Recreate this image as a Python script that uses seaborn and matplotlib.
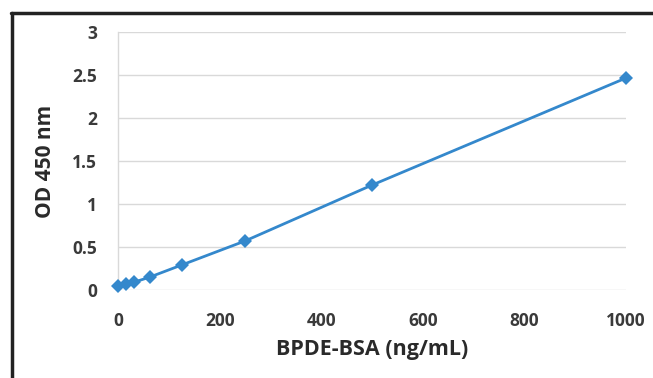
import matplotlib
matplotlib.use("Agg")
import matplotlib.pyplot as plt
import seaborn as sns
import pandas as pd
from matplotlib.lines import Line2D

conc = [0, 15.6, 31.25, 62.5, 125, 250, 500, 1000]
od = [0.05, 0.07, 0.09, 0.15, 0.29, 0.57, 1.22, 2.465]
x_ticks = [0, 200, 400, 600, 800, 1000]
y_ticks = [0, 0.5, 1, 1.5, 2, 2.5, 3]
y_tick_labels = ["0", "0.5", "1", "1.5", "2", "2.5", "3"]

sns.set_style("white")
plt.rcParams['font.family'] = ['Open Sans', 'DejaVu Sans']

df = pd.DataFrame({"conc": conc, "od": od})

fig = plt.figure(figsize=(6.53, 3.78), dpi=100)
ax = fig.add_axes([118/653, 1-290/378, (626-118)/653, (290-32)/378])

color = "#3488cc"
sns.lineplot(data=df, x="conc", y="od", ax=ax, color=color, linewidth=2,
             marker="D", markersize=7.5, markeredgewidth=0)
for ln in ax.lines:
    ln.set_clip_on(False)
    ln.set_zorder(5)

ax.set_xlim(0, 1000)
ax.set_ylim(0, 3)
ax.set_xticks(x_ticks)
ax.set_yticks(y_ticks)
ax.set_yticklabels(y_tick_labels)
ax.yaxis.grid(True, color="#d9d9d9", linewidth=1)
ax.xaxis.grid(False)
for s in ["top", "right", "bottom"]:
    ax.spines[s].set_visible(False)
ax.spines["left"].set_color("#d9d9d9")
ax.spines["left"].set_linewidth(1)
ax.tick_params(axis="both", length=0, labelsize=12.5, labelcolor="#3a3a3a")
ax.tick_params(axis="x", pad=16)
ax.tick_params(axis="y", pad=15)
for lbl in ax.get_xticklabels() + ax.get_yticklabels():
    lbl.set_fontweight("bold")
ax.set_xlabel("BPDE-BSA (ng/mL)", fontsize=15.5, fontweight="bold", color="#2a2a2a", labelpad=6)
ax.set_ylabel("OD 450 nm", fontsize=15, fontweight="bold", color="#2a2a2a", labelpad=12)

# outer frame lines (top and left)
fig.add_artist(Line2D([11/653, 1], [1-13/378, 1-13/378], color="#222222", linewidth=2.5, transform=fig.transFigure))
fig.add_artist(Line2D([12.5/653, 12.5/653], [0, 1-13/378], color="#222222", linewidth=2.5, transform=fig.transFigure))

fig.savefig("out.png", dpi=100)
